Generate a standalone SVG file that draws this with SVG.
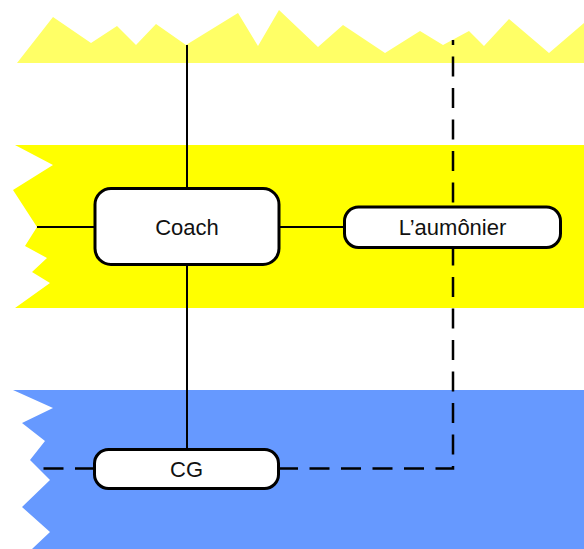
<svg xmlns="http://www.w3.org/2000/svg" width="584" height="549" viewBox="0 0 584 549">
<style>
.node rect{fill:#ffffff;stroke:#000000;stroke-width:3}
.node text{font-family:"Liberation Sans",Arial,sans-serif;font-size:22px;fill:#111111;text-anchor:middle}
.solid{fill:none;stroke:#000000;stroke-width:2}
.dash{fill:none;stroke:#000000;stroke-width:2.5;stroke-dasharray:20 11.5}
</style>
<g id="bands">
<polygon fill="#FFFF66" points="17,63 53,17 91,43 117,26 136,45 156,24 186,45 238,13 258,46 279,10 318,47 343,25 385,53 420,31 443,45 469,31 484,46 509,19 549,53 584,23 584,63"/>
<polygon fill="#FFFF00" points="15,145 584,145 584,308 15,308 50,283 32,272 47,258 25,246 37,227 13,190 53,165"/>
<polygon fill="#6699FF" points="13,390 584,390 584,549 32,549 50,532 22,507 50,480 30,460 45,441 22,423 53,408"/>
</g>
<g id="connectors">
<path class="solid" d="M187,45 V188"/>
<path class="solid" d="M187,265 V449"/>
<path class="solid" d="M37,227 H95"/>
<path class="solid" d="M279,227 H345"/>
<path class="dash" d="M278,468.5 H453 V40"/>
<path class="dash" d="M95,468.5 H43"/>
</g>
<g id="coach" class="node">
<rect x="95" y="188.5" width="184" height="76" rx="16"/>
<text x="187" y="235">Coach</text>
</g>
<g id="aumonier" class="node">
<rect x="344.5" y="207" width="216" height="40.5" rx="14"/>
<text x="452.5" y="235">L’aumônier</text>
</g>
<g id="cg" class="node">
<rect x="94.5" y="449.5" width="184" height="39" rx="14"/>
<text x="186.5" y="477">CG</text>
</g>
</svg>
